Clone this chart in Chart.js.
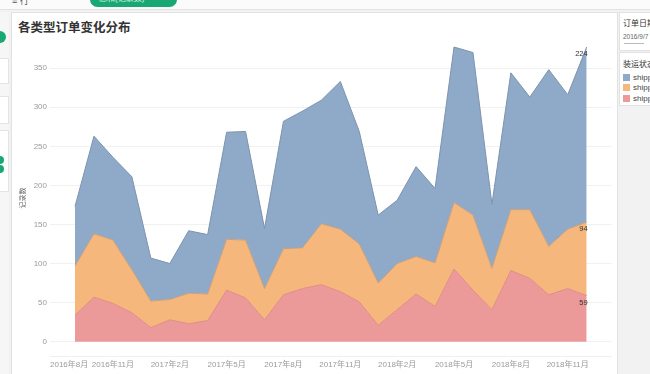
<!DOCTYPE html>
<html lang="zh">
<head>
<meta charset="utf-8">
<title>各类型订单变化分布</title>
<script src="https://cdn.jsdelivr.net/npm/chart.js@4.4.1/dist/chart.umd.min.js"></script>
<style>
    body { margin: 0; width: 650px; height: 374px; overflow: hidden; background: #f2f2f2;
           font-family: "Liberation Sans", "Noto Sans CJK SC", sans-serif; position: relative; }
    .barra-topo { position: absolute; left: 0; top: 0; width: 650px; height: 9px; background: #fbfbfb; border-bottom: 1px solid #e2e2e2; }
    .barra-topo .rotulo { position: absolute; left: 12px; top: -6px; font-size: 9px; color: #555; }
    .pilula { position: absolute; left: 90px; top: -8px; width: 87px; height: 15px; border-radius: 8px; background: #19a874;
              color: #cfeee0; font-size: 8px; line-height: 14px; padding-left: 9px; box-sizing: border-box; }
    .lateral { position: absolute; left: 0; top: 12px; width: 9px; height: 362px; background: #f6f6f6; }
    .lateral .caixa { position: absolute; left: 0; width: 8px; background: #fff; border: 1px solid #e4e4e4; border-left: none; }
    .ponto { position: absolute; border-radius: 50%; background: #19a874; }
    .painel { position: absolute; left: 11px; top: 12px; width: 605px; height: 380px; background: #fff; border: 1px solid #e2e2e2; }
    .titulo { position: absolute; left: 18px; top: 19px; font-size: 12.5px; line-height: 16px; font-weight: bold; color: #333;
              font-family: "Noto Sans CJK SC", sans-serif; }
    #grafico { position: absolute; left: 11px; top: 12px; }
    .filtro { position: absolute; left: 619px; background: #fff; border: 1px solid #e2e2e2; width: 40px; overflow: hidden; }
    .filtro .cab { position: absolute; left: 3px; font-size: 8px; color: #333; white-space: nowrap; font-family: "Noto Sans CJK SC", sans-serif; }
    .filtro .data { position: absolute; left: 3px; top: 20px; font-size: 6.5px; color: #666; white-space: nowrap; }
    .filtro .trilho { position: absolute; left: 4px; top: 30px; width: 20px; height: 1px; background: #bbb; }
    .item { position: absolute; left: 3px; height: 8px; white-space: nowrap; font-size: 8px; line-height: 8px; color: #444; }
    .item i { display: inline-block; width: 7px; height: 7px; margin-right: 3px; vertical-align: top; }
</style>
</head>
<body>
<div class="barra-topo"><span class="rotulo">≡ 行</span><div class="pilula">总和(记录数)</div></div>
<div class="lateral">
    <div class="caixa" style="top: 46px; height: 24px;"></div>
    <div class="caixa" style="top: 84px; height: 26px;"></div>
    <div class="caixa" style="top: 118px; height: 60px;"></div>
</div>
<div class="ponto" style="left: -6px; top: 31px; width: 12px; height: 12px;"></div>
<div class="ponto" style="left: -4px; top: 156px; width: 8px; height: 8px;"></div>
<div class="ponto" style="left: -4px; top: 165px; width: 8px; height: 8px;"></div>

<div class="painel"></div>
<div class="titulo">各类型订单变化分布</div>
<canvas id="grafico" width="606" height="362"></canvas>

<div class="filtro" style="top: 12px; height: 37px;">
    <span class="cab" style="top: 4px;">订单日期</span>
    <span class="data">2016/9/7 - 2018/12/30</span>
    <div class="trilho"></div>
</div>
<div class="filtro" id="legenda" style="top: 52px; height: 52px;">
    <span class="cab" style="top: 5px;">装运状态</span>
</div>

<script>
// Meses do eixo (订单日期，按月)
const meses = ['2016-09', '2016-10', '2016-11', '2016-12', '2017-01', '2017-02', '2017-03', '2017-04',
    '2017-05', '2017-06', '2017-07', '2017-08', '2017-09', '2017-10', '2017-11', '2017-12',
    '2018-01', '2018-02', '2018-03', '2018-04', '2018-05', '2018-06', '2018-07', '2018-08',
    '2018-09', '2018-10', '2018-11', '2018-12'];

// Séries (装运状态) - de cima para baixo na pilha
const nomes = ['shipped early', 'shipped late', 'shipped on time'];
const azul = [76, 125, 106, 119, 55, 46, 80, 76, 137, 139, 77, 163, 175, 158, 189, 144, 87, 81, 115, 95, 199, 208, 82, 175, 144, 226, 172, 224];
const laranja = [63, 81, 81, 55, 34, 26, 39, 34, 65, 74, 40, 59, 52, 78, 80, 74, 54, 59, 48, 56, 85, 96, 53, 78, 88, 62, 76, 94];
const vermelho = [34, 57, 49, 37, 18, 28, 23, 27, 66, 56, 28, 60, 68, 73, 64, 51, 21, 41, 61, 45, 93, 66, 41, 91, 81, 60, 68, 59];

// Rótulos dos eixos
const rotulosX = ['2016年8月', '2016年11月', '2017年2月', '2017年5月', '2017年8月', '2017年11月', '2018年2月', '2018年5月', '2018年8月', '2018年11月'];
const ticksY = [0, 50, 100, 150, 200, 250, 300, 350];

const cores = ['#8eaac8', '#f5b77b', '#ec999a'];
const bordas = ['#7d93ad', '#c99f7c', '#df8c88'];

// posição de um mês (ex. 2016年8月) em relação ao primeiro mês dos dados
function indiceMes(ano, mes) {
    const [a0, m0] = meses[0].split('-').map(Number);
    return (ano - a0) * 12 + (mes - m0);
}
const posX = rotulosX.map(r => {
    const m = r.match(/(\d+)年(\d+)月/);
    return indiceMes(Number(m[1]), Number(m[2]));
});

function pontos(valores) {
    return valores.map((v, i) => ({ x: i, y: v }));
}

// Legenda no painel da direita
const legenda = document.getElementById('legenda');
nomes.forEach((nome, i) => {
    const div = document.createElement('div');
    div.className = 'item';
    div.style.top = (21 + i * 10.3) + 'px';
    div.innerHTML = `<i style="background:${cores[i]}"></i>${nome}`;
    legenda.appendChild(div);
});

// Primeiro rótulo do eixo X fica dentro do painel (como no Tableau)
const prenderRotulo = {
    id: 'prenderRotulo',
    beforeDraw(chart) {
        const s = chart.scales.x;
        const itens = s.getLabelItems();
        const ctx = chart.ctx;
        itens.forEach(item => {
            ctx.font = item.font.string;
            const w = ctx.measureText(item.label).width;
            if (item.options.translation[0] - w / 2 < chart.chartArea.left) {
                item.options.translation[0] = chart.chartArea.left + w / 2;
            }
        });
    }
};

// Valores do último mês
const rotulosFinais = {
    id: 'rotulosFinais',
    afterDatasetsDraw(chart) {
        const ctx = chart.ctx;
        ctx.save();
        ctx.font = '7.5px "Liberation Sans", sans-serif';
        ctx.fillStyle = '#333';
        ctx.textAlign = 'right';
        ctx.textBaseline = 'middle';
        chart.data.datasets.forEach((ds, i) => {
            const meta = chart.getDatasetMeta(i);
            const p = meta.data[meta.data.length - 1];
            ctx.fillText(ds.data[ds.data.length - 1].y, p.x + 1, p.y + 7);
        });
        ctx.restore();
    }
};

const ctx = document.getElementById('grafico').getContext('2d');
const chart = new Chart(ctx, {
    type: 'line',
    data: {
        datasets: [
            { label: nomes[2], data: pontos(vermelho), fill: 'origin', backgroundColor: cores[2], borderColor: bordas[2] },
            { label: nomes[1], data: pontos(laranja), fill: '-1', backgroundColor: cores[1], borderColor: bordas[1] },
            { label: nomes[0], data: pontos(azul), fill: '-1', backgroundColor: cores[0], borderColor: bordas[0] }
        ]
    },
    options: {
        responsive: false,
        animation: false,
        elements: {
            line: { borderWidth: 1, tension: 0 },
            point: { radius: 0 }
        },
        layout: { padding: { top: 28, right: 5.5, left: 0, bottom: 0 } },
        plugins: {
            legend: { display: false },
            tooltip: { enabled: false }
        },
        scales: {
            x: {
                type: 'linear',
                min: -1.32,
                max: 28.31,
                grid: { display: false, drawTicks: false },
                border: { display: true, color: '#efefef' },
                afterBuildTicks: s => { s.ticks = posX.map(v => ({ value: v })); },
                afterFit: s => { s.height = 18; },
                ticks: {
                    autoSkip: false,
                    maxRotation: 0,
                    padding: 4,
                    color: '#9a9a9a',
                    font: { size: 8, family: '"Liberation Sans", "Noto Sans CJK SC", sans-serif' },
                    callback: v => rotulosX[posX.indexOf(v)]
                }
            },
            y: {
                stacked: true,
                min: -18.3,
                max: 386,
                grid: { color: '#f1f1f1', drawTicks: false },
                border: { display: false },
                afterBuildTicks: s => { s.ticks = ticksY.map(v => ({ value: v })); },
                afterFit: s => { s.width = 39; },
                ticks: {
                    padding: 3,
                    color: '#9a9a9a',
                    font: { size: 8, family: '"Liberation Sans", sans-serif' }
                },
                title: {
                    display: true,
                    text: '记录数',
                    color: '#666',
                    padding: { top: 7.3, bottom: 0 },
                    font: { size: 7, family: '"Noto Sans CJK SC", sans-serif' }
                }
            }
        }
    },
    plugins: [prenderRotulo, rotulosFinais]
});
</script>
</body>
</html>
